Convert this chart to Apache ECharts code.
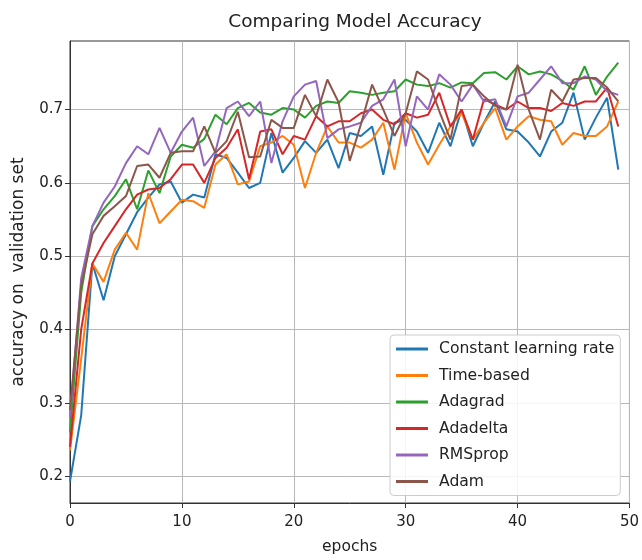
<!DOCTYPE html>
<html><head><meta charset="utf-8">
<script src="https://cdn.jsdelivr.net/npm/echarts@6/dist/echarts.min.js"></script>
<style>html,body{margin:0;padding:0;background:#fff}#c{width:642px;height:560px}</style>
</head><body><div id="c"></div>
<script>
const epochs = [0,1,2,3,4,5,6,7,8,9,10,11,12,13,14,15,16,17,18,19,20,21,22,23,24,25,26,27,28,29,30,31,32,33,34,35,36,37,38,39,40,41,42,43,44,45,46,47,48,49];
const xTicks = [0,10,20,30,40,50];
const yTicks = [0.2,0.3,0.4,0.5,0.6,0.7];

const constantLR = [0.193,0.283,0.49,0.44,0.50,0.53,0.56,0.58,0.598,0.602,0.573,0.584,0.58,0.639,0.634,0.614,0.593,0.6,0.668,0.614,0.634,0.657,0.641,0.659,0.62,0.668,0.664,0.677,0.611,0.682,0.686,0.670,0.641,0.682,0.65,0.7,0.65,0.682,0.711,0.673,0.67,0.655,0.636,0.670,0.682,0.723,0.659,0.689,0.716,0.618];
const timeBased = [0.235,0.36,0.49,0.465,0.509,0.532,0.509,0.586,0.545,0.561,0.577,0.575,0.566,0.625,0.639,0.598,0.602,0.65,0.655,0.664,0.652,0.593,0.641,0.677,0.655,0.655,0.648,0.659,0.682,0.618,0.695,0.655,0.625,0.652,0.677,0.695,0.659,0.682,0.702,0.659,0.677,0.691,0.686,0.684,0.652,0.668,0.664,0.664,0.677,0.711];
const adagrad = [0.26,0.45,0.541,0.564,0.582,0.605,0.564,0.617,0.586,0.636,0.652,0.648,0.66,0.693,0.68,0.702,0.709,0.696,0.693,0.702,0.7,0.689,0.705,0.711,0.709,0.725,0.723,0.72,0.723,0.725,0.741,0.734,0.732,0.736,0.73,0.737,0.736,0.75,0.751,0.741,0.759,0.748,0.752,0.748,0.739,0.727,0.759,0.72,0.745,0.764];
const adadelta = [0.24,0.40,0.49,0.518,0.541,0.564,0.584,0.591,0.593,0.605,0.625,0.625,0.6,0.634,0.648,0.673,0.605,0.670,0.673,0.639,0.664,0.659,0.691,0.677,0.684,0.684,0.695,0.7,0.686,0.68,0.695,0.689,0.693,0.723,0.677,0.7,0.659,0.714,0.707,0.7,0.711,0.702,0.702,0.698,0.709,0.705,0.711,0.711,0.730,0.677];
const rmsprop = [0.28,0.47,0.541,0.573,0.595,0.627,0.65,0.639,0.675,0.641,0.670,0.689,0.623,0.643,0.702,0.711,0.691,0.711,0.627,0.684,0.718,0.734,0.739,0.661,0.673,0.677,0.682,0.705,0.714,0.741,0.65,0.718,0.7,0.748,0.734,0.711,0.734,0.711,0.714,0.677,0.718,0.723,0.741,0.759,0.736,0.736,0.745,0.741,0.725,0.720];
const adam = [0.29,0.46,0.53,0.555,0.568,0.582,0.623,0.625,0.607,0.641,0.643,0.643,0.677,0.641,0.657,0.697,0.635,0.636,0.686,0.675,0.675,0.72,0.691,0.741,0.71,0.63,0.68,0.734,0.7,0.664,0.695,0.752,0.741,0.698,0.659,0.732,0.734,0.718,0.705,0.7,0.761,0.7,0.659,0.727,0.711,0.741,0.743,0.743,0.73,0.711];

const seriesNames = ['Constant learning rate','Time-based','Adagrad','Adadelta','RMSprop','Adam'];
const seriesValues = [constantLR, timeBased, adagrad, adadelta, rmsprop, adam];
const colors = ['#1f77b4','#ff7f0e','#2ca02c','#d62728','#9467bd','#8c564b'];

const FONT = 'DejaVu Sans';
const chart = echarts.init(document.getElementById('c'), null, {renderer:'canvas'});
chart.setOption({
  animation: false,
  backgroundColor: '#fff',
  title: {
    text: 'Comparing Model Accuracy',
    left: 350, top: 8, textAlign: 'center',
    textStyle: {fontFamily: FONT, fontSize: 18.5, fontWeight: 'normal', color: '#222'}
  },
  grid: {left: 70, right: 11, top: 41, bottom: 54, show: true, borderColor: '#333', borderWidth: 1, backgroundColor: 'transparent'},
  legend: {
    orient: 'vertical', left: 390, top: 335,
    data: seriesNames,
    icon: 'rect', itemWidth: 32, itemHeight: 3, itemGap: 10.5,
    padding: [6, 6, 6, 6],
    backgroundColor: 'rgba(255,255,255,0.85)',
    borderColor: '#ccc', borderWidth: 1, borderRadius: 4,
    textStyle: {fontFamily: FONT, fontSize: 15.6, color: '#222', padding: [0,0,0,6]}
  },
  xAxis: {
    type: 'value', min: xTicks[0], max: xTicks[xTicks.length-1], interval: 10,
    name: 'epochs', nameLocation: 'middle', nameGap: 36,
    nameTextStyle: {fontFamily: FONT, fontSize: 15.5, color: '#222'},
    axisLine: {show: true, onZero: false, lineStyle: {color: '#333', width: 1}},
    axisTick: {show: true, length: 5, lineStyle: {color: '#333'}},
    axisLabel: {fontFamily: FONT, fontSize: 15, color: '#222', margin: 12},
    splitLine: {show: true, lineStyle: {color: '#b8b8b8', width: 1}}
  },
  yAxis: {
    type: 'value', min: 0.1634, max: 0.7935,
    name: 'accuracy on  validation set', nameLocation: 'middle', nameGap: 43, nameRotate: 90,
    nameTextStyle: {fontFamily: FONT, fontSize: 17, color: '#222'},
    axisLine: {show: true, onZero: false, lineStyle: {color: '#333', width: 1}},
    axisTick: {show: true, length: 5, lineStyle: {color: '#333'}, customValues: yTicks},
    axisLabel: {fontFamily: FONT, fontSize: 15, color: '#222', margin: 7, customValues: yTicks, formatter: v => v.toFixed(1)},
    splitLine: {show: true, lineStyle: {color: '#b8b8b8', width: 1}}
  },
  series: seriesNames.map((n, k) => ({
    name: n, type: 'line', showSymbol: false, symbol: 'none',
    color: colors[k],
    lineStyle: {width: 2, color: colors[k]},
    data: epochs.map((e, i) => [e, seriesValues[k][i]])
  }))
});
</script>
</body></html>
